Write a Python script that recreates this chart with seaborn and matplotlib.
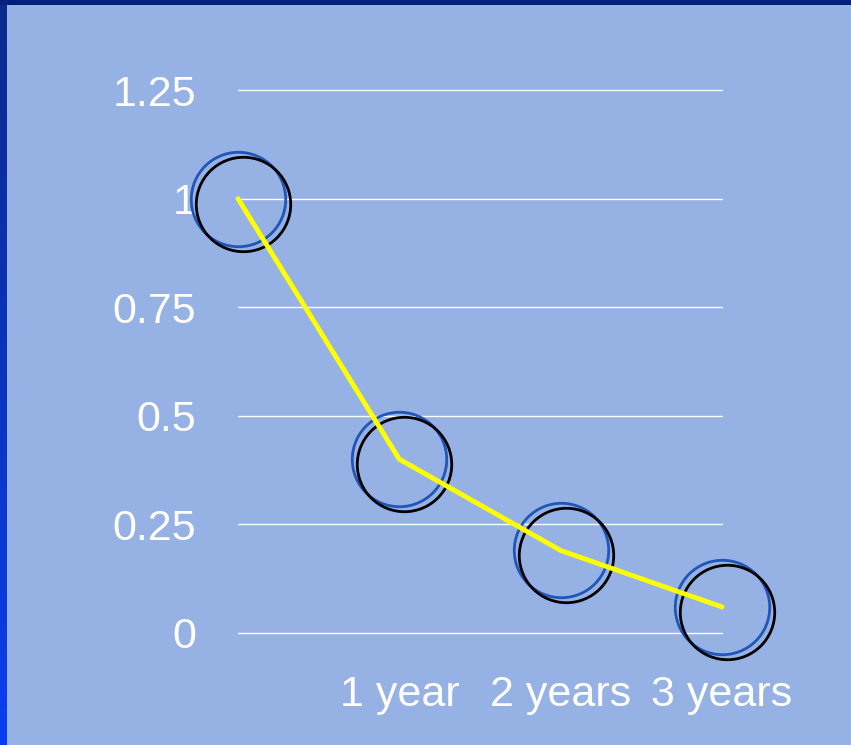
import numpy as np
import pandas as pd
import matplotlib
matplotlib.use("Agg")
import matplotlib.pyplot as plt
from matplotlib.transforms import offset_copy
from matplotlib.colors import LinearSegmentedColormap
import seaborn as sns

categories = ["", "1 year", "2 years", "3 years"]
values = [1.0, 0.40, 0.19, 0.06]
yticks = [0, 0.25, 0.5, 0.75, 1, 1.25]
ytick_labels = ["0", "0.25", "0.5", "0.75", "1", "1.25"]

sns.set_theme(style="white")
plt.rcParams["font.family"] = ["Liberation Sans", "DejaVu Sans"]

bg = "#96B1E3"
W, H = 851, 745
fig = plt.figure(figsize=(W / 100, H / 100), dpi=100, facecolor=bg)

# frame strips
top = fig.add_axes([0, 1 - 5 / H, 1, 5 / H])
top.axis("off")
top.add_patch(plt.Rectangle((0, 0), 1, 1, transform=top.transAxes, color="#00227F"))
left = fig.add_axes([0, 0, 7 / W, 1 - 5 / H])
grad = np.linspace(0, 1, 256).reshape(-1, 1)
cmap = LinearSegmentedColormap.from_list("edge", ["#0A3EF0", "#0A2A8C"])
left.imshow(grad, aspect="auto", cmap=cmap, origin="lower", extent=[0, 1, 0, 1])
left.axis("off")

ax = fig.add_axes([238 / W, (H - 633) / H, (722 - 238) / W, (633 - 90) / H])
ax.set_facecolor(bg)

df = pd.DataFrame({"x": np.arange(len(categories)), "y": values})

# circle markers: blue at data, black slightly offset
ax.plot(df["x"], df["y"], linestyle="none", marker="o", markersize=68,
        markerfacecolor="none", markeredgecolor="#1F56B8", markeredgewidth=2.0,
        clip_on=False, zorder=3)
tr = offset_copy(ax.transData, fig=fig, x=5, y=-5, units="dots")
ax.plot(df["x"], df["y"], linestyle="none", marker="o", markersize=68,
        markerfacecolor="none", markeredgecolor="black", markeredgewidth=2.0,
        clip_on=False, zorder=3, transform=tr)

sns.lineplot(data=df, x="x", y="y", color="#FFFF00", linewidth=3.5, ax=ax,
             zorder=4)
for l in ax.lines:
    l.set_clip_on(False)

ax.set_xlim(0, len(categories) - 1)
ax.set_ylim(0, 1.25)
ax.set_yticks(yticks)
ax.set_yticklabels(ytick_labels)
ax.set_xticks(df["x"])
ax.set_xticklabels(categories)
ax.grid(axis="y", color="white", linewidth=1)
ax.grid(axis="x", visible=False)
for gl in ax.get_ygridlines():
    gl.set_clip_on(False)
ax.set_axisbelow(True)
for s in ax.spines.values():
    s.set_visible(False)
ax.tick_params(axis="y", colors="white", labelsize=31, length=0, pad=30)
ax.tick_params(axis="x", colors="white", labelsize=31, length=0, pad=30)
ax.set_xlabel("")
ax.set_ylabel("")

fig.savefig("out.png", dpi=100, facecolor=bg)
